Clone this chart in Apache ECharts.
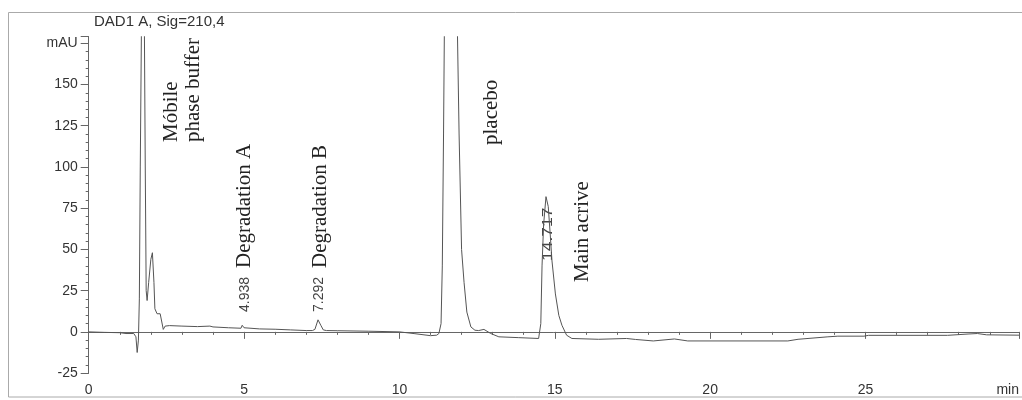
<!DOCTYPE html>
<html><head><meta charset="utf-8">
<script src="https://cdn.jsdelivr.net/npm/echarts@6/dist/echarts.min.js"></script>
<style>html,body{margin:0;padding:0;background:#fff}#c{width:1022px;height:400px}</style>
</head><body><div id="c"></div>
<script>
// Retention time (min) and detector response (mAU)
const times = [0,0.5,1.0,1.2,1.45,1.52,1.56,1.60,1.63,1.66,1.70,1.74,1.79,1.82,1.85,1.88,1.93,2.00,2.05,2.10,2.13,2.20,2.30,2.35,2.40,2.46,2.6,3.0,3.5,3.9,4.0,4.5,4.90,4.94,4.97,5.00,5.03,5.5,6.0,6.5,7.0,7.2,7.28,7.38,7.47,7.55,7.65,8.0,9.0,10.0,10.5,11.0,11.2,11.27,11.34,11.38,11.42,11.45,11.65,11.86,11.92,12.00,12.08,12.17,12.30,12.43,12.55,12.72,12.94,13.2,13.84,14.48,14.55,14.59,14.64,14.717,14.79,14.85,14.91,15.02,15.13,15.23,15.38,15.55,16.41,17.31,17.6,18.17,18.85,19.28,22.5,22.83,23.79,24.11,24.95,25.1,27.64,28.3,28.6,28.9,29.94];
const mAU = [0,-0.3,-0.5,-1,-1,-3,-12.5,-5,20,100,190,260,190,100,25,19,30,44,48,30,14,11,11,12,1.5,3.5,3.8,3.5,3.2,3.5,3,2.5,2.2,4,5,2.5,2.1,1.8,1.6,1.2,0.8,0.8,1.5,7.3,4,1.2,0.8,0.7,0.4,0,-1.1,-2.3,-2.0,-1,5,40,120,190,300,190,120,50,30,12,3,1,0.8,1.5,-1,-3,-3.5,-4,5,40,65,82,76,60,43,23,10,4,-2,-4,-4.5,-4,-4.6,-5.5,-4.3,-5.5,-5.5,-4.5,-3,-2.6,-2.6,-2.1,-2.1,-1.3,-1.0,-1.8,-2.0];
const yTicks = [-25,0,25,50,75,100,125,150,175];
const yUnitLabel = 'mAU';
const xUnitLabel = 'min';
const titleText = 'DAD1 A, Sig=210,4';
// Peak annotations
const peakNames = ['Móbile','phase buffer','Degradation A','Degradation B','placebo','Main acrive'];
const rtLabels = ['4.938','7.292','14.717'];

const namePos = [[171,142],[193,142],[244,268],[320,268],[491,145],[582,282]];
const rtPos = [[245.5,312,1],[319.5,312,1],[548,261,1.25]];

const chart = echarts.init(document.getElementById('c'), null, {renderer:'canvas'});
const serif = '"Liberation Serif","DejaVu Serif",serif';
const sans = '"Liberation Sans",Arial,sans-serif';
const graphics = [
  {type:'rect', shape:{x:8.5,y:12.5,width:1030,height:384.5}, style:{fill:'none',stroke:'#aaa',lineWidth:1}, silent:true}
];
peakNames.forEach((t,i)=>graphics.push({type:'text', x:namePos[i][0], y:namePos[i][1], rotation:Math.PI/2,
  style:{text:t, font:'21px '+serif, fill:'#222', align:'left', verticalAlign:'middle'}}));
rtLabels.forEach((t,i)=>graphics.push({type:'text', x:rtPos[i][0], y:rtPos[i][1], rotation:Math.PI/2, scaleX:rtPos[i][2],
  style:{text:t, font:'14px '+sans, fill:'#444', align:'left', verticalAlign:'middle'}}));

const axisCol = '#666';
chart.setOption({
  animation:false,
  title:{text:titleText, left:94, top:14, padding:0, textStyle:{fontFamily:sans, fontSize:15, fontWeight:'normal', color:'#333'}},
  grid:{left:88.7, right:0, top:36.7, bottom:26.9, containLabel:false},
  xAxis:{type:'value', min:0, max:29.94, interval:5,
    axisLine:{lineStyle:{color:axisCol}},
    axisTick:{show:true, inside:false, length:7, lineStyle:{color:axisCol}},
    minorTick:{show:true, splitNumber:5, length:3, lineStyle:{color:axisCol}},
    splitLine:{show:false},
    axisLabel:{fontFamily:sans, fontSize:14, color:'#333', margin:10, showMaxLabel:true, alignMaxLabel:'right',
      formatter:v=> (v>29 ? xUnitLabel : (v%5===0 ? String(v) : ''))}
  },
  yAxis:[
    {type:'value', min:-25, max:179, interval:25,
      axisLine:{show:true, lineStyle:{color:axisCol}},
      axisTick:{show:true, length:8, lineStyle:{color:axisCol}},
      splitLine:{show:false},
      axisLabel:{fontFamily:sans, fontSize:14, color:'#333', margin:11, showMaxLabel:true,
        formatter:v=> (v===yTicks[yTicks.length-1] ? yUnitLabel : (yTicks.indexOf(v)>=0 ? String(v) : ''))}
    },
    {type:'value', min:-25, max:179, interval:5, position:'left',
      axisLine:{show:false}, axisTick:{show:true, length:3, lineStyle:{color:axisCol}},
      splitLine:{show:false}, axisLabel:{show:false}}
  ],
  series:[{type:'line', data:times.map((t,i)=>[t,mAU[i]]), showSymbol:false, symbol:'none', clip:true,
    lineStyle:{color:'#555', width:1}, smooth:false}],
  graphic:graphics
});
</script></body></html>
